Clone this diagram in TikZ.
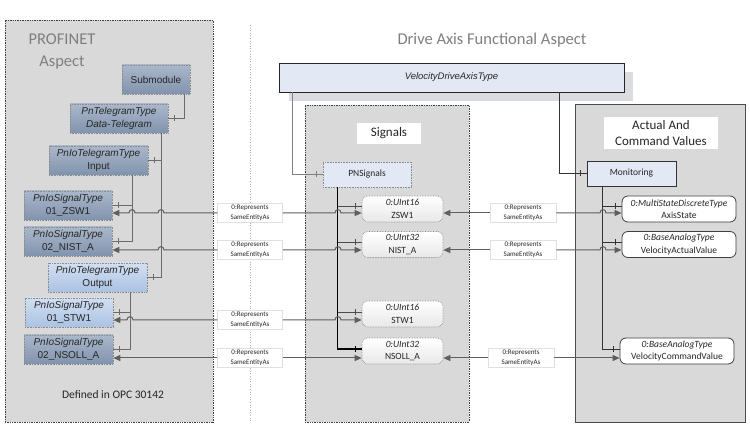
\documentclass[tikz,border=0pt]{standalone}
\usepackage{fontspec}
\setmainfont{Carlito}
\newfontfamily\arialf{Liberation Sans}
\usetikzlibrary{arrows.meta,decorations.markings,calc}
\definecolor{panelc}{HTML}{D9D9D9}
\definecolor{dkA}{HTML}{AAB7CA}
\definecolor{dkB}{HTML}{8193AD}
\definecolor{ltA}{HTML}{D2DFF1}
\definecolor{ltB}{HTML}{ABC2E3}
\definecolor{paleblue}{HTML}{E2E9F5}
\definecolor{shadowc}{HTML}{DBDCDF}
\definecolor{linec}{HTML}{5F5F5F}
\definecolor{titlec}{HTML}{7F7F7F}
\definecolor{txtc}{HTML}{262626}
% hop over a vertical line at x=#1 on a horizontal line at y=#2 (travelling right)
\newcommand\hopR[2]{-- ({#1-3},#2) .. controls ({#1-3},{#2-4.5}) and ({#1+3},{#2-4.5}) .. ({#1+3},#2)}
\begin{document}
\begin{tikzpicture}[x=1pt,y=-1pt,
  panelL/.style={draw=black!75, densely dotted, line width=0.7pt, fill=panelc, inner sep=0pt},
  panelS/.style={draw=black!70, line width=0.9pt, fill=panelc, inner sep=0pt},
  lbox/.style={draw=black!45, densely dotted, line width=0.6pt, inner sep=0pt, align=center,
    font=\arialf\fontsize{10}{13}\selectfont, text=txtc, top color=dkA, bottom color=dkB, minimum height=29pt},
  lboxlt/.style={lbox, top color=ltA, bottom color=ltB},
  sbox/.style={rounded corners=6pt, draw=black!50, densely dotted, line width=0.6pt, top color=white, bottom color=black!9,
    minimum width=81pt, minimum height=26pt, inner sep=0pt, align=center, font=\fontsize{9.5}{12.5}\selectfont, text=txtc},
  abox/.style={rounded corners=6pt, draw=black!75, line width=0.8pt, fill=white,
    minimum width=114pt, minimum height=26pt, inner sep=0pt, align=center, font=\fontsize{9.5}{12.5}\selectfont, text=txtc},
  lbl/.style={fill=white, draw=black!12, line width=0.5pt, minimum width=65pt, minimum height=19pt, inner sep=0pt,
    align=center, font=\fontsize{7}{9.5}\selectfont, text=txtc},
  hasc/.style={postaction={decorate}, decoration={markings, mark=at position -6pt with {\draw[solid,-,line width=0.8pt] (0,-3pt) -- (0,3pt);}}},
  hierL/.style={draw=black!58, line width=1.3pt, hasc},
  sigtr/.style={draw=black, line width=1.2pt, hasc},
  sigbr/.style={draw=black!70, line width=0.9pt, hasc},
  montr/.style={draw=black!80, line width=0.8pt, hasc},
  refl/.style={draw=linec, line width=1pt},
  tipR/.style={-{Triangle[length=7pt,width=6pt]}},
  tipL/.style={{Triangle[length=7pt,width=6pt]}-},
  titlef/.style={text=titlec, font=\fontsize{16.5}{22}\selectfont, align=center, inner sep=0pt}
]
\useasboundingbox (0,0) rectangle (750,430);
\fill[white] (0,0) rectangle (750,430);

% panels
\node[panelL, minimum width=208pt, minimum height=402pt] (pL) at (109,221) {};
\draw[black!30, dotted, line width=0.6pt] (250,25) -- (250,422);
\node[panelL, minimum width=164pt, minimum height=317pt] (pS) at (387,263.5) {};
\node[panelS, minimum width=170pt, minimum height=318pt] (pA) at (660,263) {};

% titles
\node[titlef] (tPN) at (62,51) {PROFINET\\Aspect};
\node[titlef] (tDA) at (492,40) {Drive Axis Functional Aspect};
\node[text=txtc, font=\fontsize{11.5}{14}\selectfont, inner sep=0pt] (def) at (113,395) {Defined in OPC 30142};
\node[fill=white, minimum width=64pt, minimum height=21pt, inner sep=0pt, font=\fontsize{13}{16}\selectfont, text=txtc] (tSig) at (389,133.5) {Signals};
\node[fill=white, minimum width=114pt, minimum height=32pt, inner sep=0pt, align=center, font=\fontsize{13}{16.5}\selectfont, text=txtc] (tAct) at (661,133) {Actual And\\Command Values};

% top type
\node[fill=shadowc, minimum width=344pt, minimum height=29pt, inner sep=0pt] (shad) at (461,86.5) {};
\node[draw=black!85, line width=0.9pt, fill=paleblue, minimum width=345pt, minimum height=29pt, inner sep=0pt,
  font=\arialf\itshape\fontsize{9.5}{12}\selectfont, text=txtc] (vdat) at (451.5,77.5) {VelocityDriveAxisType};

% PROFINET boxes
\node[lbox, minimum width=68pt] (sub) at (156,79.5) {Submodule};
\node[lbox, minimum width=98pt] (dt) at (119,118.5) {\textit{PnTelegramType}\\\textit{Data-Telegram}};
\node[lbox, minimum width=99pt] (in) at (98.5,160.5) {\textit{PnIoTelegramType}\\Input};
\node[lbox, minimum width=88pt] (zl) at (68,205.5) {\textit{PnIoSignalType}\\01\_ZSW1};
\node[lbox, minimum width=88pt] (nl) at (68,241.5) {\textit{PnIoSignalType}\\02\_NIST\_A};
\node[lboxlt, minimum width=99pt] (out) at (97.5,277.5) {\textit{PnIoTelegramType}\\Output};
\node[lboxlt, minimum width=88pt] (stl) at (69,312.5) {\textit{PnIoSignalType}\\01\_STW1};
\node[lbox, minimum width=89pt] (nsl) at (68.5,349.5) {\textit{PnIoSignalType}\\02\_NSOLL\_A};

% Signals boxes
\node[draw=black!45, densely dotted, line width=0.6pt, fill=paleblue, minimum width=88pt, minimum height=25pt, inner sep=0pt,
  font=\fontsize{9.5}{12}\selectfont, text=txtc] (pn) at (367,174.5) {PNSignals};
\node[sbox] (s1) at (402.5,209) {\textit{0:UInt16}\\ZSW1};
\node[sbox] (s2) at (402.5,244.5) {\textit{0:UInt32}\\NIST\_A};
\node[sbox] (s3) at (402.5,314) {\textit{0:UInt16}\\STW1};
\node[sbox] (s4) at (402.5,351) {\textit{0:UInt32}\\NSOLL\_A};

% Actual boxes
\node[draw=black!80, line width=0.8pt, fill=paleblue, minimum width=89pt, minimum height=25pt, inner sep=0pt,
  font=\fontsize{9.5}{12}\selectfont, text=txtc] (mon) at (631.5,173.5) {Monitoring};
\node[abox] (a1) at (679,209) {\textit{0:MultiStateDiscreteType}\\AxisState};
\node[abox] (a2) at (679,244.5) {\textit{0:BaseAnalogType}\\VelocityActualValue};
\node[abox] (a3) at (677,351) {\textit{0:BaseAnalogType}\\VelocityCommandValue};

% labels
\node[lbl] (la1) at (250,213) {0:Represents\\SameEntityAs};
\node[lbl] (la2) at (250,250) {0:Represents\\SameEntityAs};
\node[lbl] (la3) at (250,320) {0:Represents\\SameEntityAs};
\node[lbl] (la4) at (250,358) {0:Represents\\SameEntityAs};
\node[lbl, minimum width=66pt] (ra1) at (523,213) {0:Represents\\SameEntityAs};
\node[lbl, minimum width=66pt] (ra2) at (523,250) {0:Represents\\SameEntityAs};
\node[lbl, minimum width=66pt] (ra3) at (521,358) {0:Represents\\SameEntityAs};

% trunk coordinates
\coordinate (tSub) at ([xshift=-6pt]sub.south east);
\coordinate (tDT) at ([xshift=-7pt]dt.south east);
\coordinate (tIn) at ([xshift=-16pt]in.south east);
\coordinate (tOut) at ([xshift=-17pt]out.south east);
\coordinate (pnT) at ([xshift=15pt]pn.south west);
\coordinate (mT) at ([xshift=16pt]mon.south west);
\coordinate (vT1) at ([xshift=14pt]vdat.south west);
\coordinate (vT2) at ([xshift=-65pt]vdat.south east);
\coordinate (s1t) at ([yshift=2.5pt]s1.west);
\coordinate (s2t) at ([yshift=2pt]s2.west);
\coordinate (s3t) at ([yshift=2pt]s3.west);
\coordinate (s4t) at ([yshift=2pt]s4.west);
\coordinate (a1t) at ([yshift=2.5pt]a1.west);
\coordinate (a2t) at ([yshift=2pt]a2.west);
\coordinate (a3t) at ([yshift=2pt]a3.west);

% PROFINET hierarchy
\draw[hierL] (tSub) |- (dt.east);
\draw[hierL] (tDT) |- (out.east);
\draw[hierL] (tDT |- in.east) -- (in.east);
\draw[hierL] (tIn) |- (nl.east);
\draw[hierL] (tIn |- zl.east) -- (zl.east);
\draw[hierL] (tOut) |- (nsl.east);
\draw[hierL] (tOut |- stl.east) -- (stl.east);

% type hierarchy
\draw[draw=black!50, line width=1.6pt, hasc] (vT1) |- (pn.west);
\draw[montr] (vT2) |- (mon.west);

% Signals hierarchy
\draw[sigtr] (pnT) |- (s4t);
\draw[sigbr] (pnT |- s1t) -- (s1t);
\draw[sigbr] (pnT |- s2t) -- (s2t);
\draw[sigbr] (pnT |- s3t) -- (s3t);

% Monitoring hierarchy
\draw[montr] (mT) |- (a3t);
\draw[montr] (mT |- a1t) -- (a1t);
\draw[montr] (mT |- a2t) -- (a2t);

% RepresentsSameEntityAs references, left
\draw[refl, tipL] (zl.east |- la1) \hopR{132}{213} \hopR{161}{213} -- (la1.west);
\draw[refl, tipR] (la1.east) \hopR{338}{213} -- (s1.west |- la1);
\draw[refl, tipL] (nl.east |- la2) \hopR{161}{250} -- (la2.west);
\draw[refl, tipR] (la2.east) \hopR{338}{250} -- (s2.west |- la2);
\draw[refl, tipL] (stl.east |- la3) \hopR{130}{320} -- (la3.west);
\draw[refl, tipR] (la3.east) \hopR{338}{320} -- (s3.west |- la3);
\draw[refl, tipL] (nsl.east |- la4) -- (la4.west);
\draw[refl, tipR] (la4.east) -- (s4.west |- la4);

% right
\draw[refl, tipL] (s1.east |- ra1) -- (ra1.west);
\draw[refl, tipR] (ra1.east) \hopR{603}{213} -- (a1.west |- ra1);
\draw[refl, tipL] (s2.east |- ra2) -- (ra2.west);
\draw[refl, tipR] (ra2.east) \hopR{603}{250} -- (a2.west |- ra2);
\draw[refl, tipL] (s4.east |- ra3) -- (ra3.west);
\draw[refl, tipR] (ra3.east) -- (a3.west |- ra3);
\end{tikzpicture}
\end{document}
